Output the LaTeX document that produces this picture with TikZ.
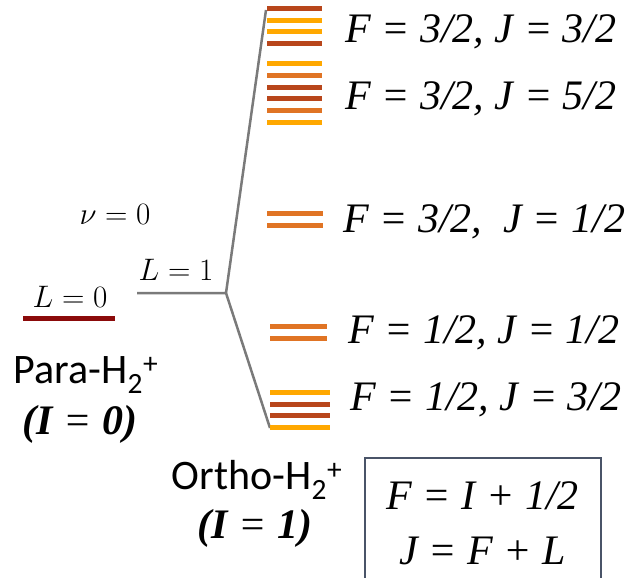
\documentclass[tikz,border=0pt]{standalone}
\usepackage{fontspec}
\setmainfont{Liberation Serif}
\newfontfamily\calibri{Carlito}
\usepackage{xcolor}
\usepackage{tikz}
\usetikzlibrary{positioning}

\definecolor{rust}{HTML}{B8461B}
\definecolor{amber}{HTML}{FFA800}
\definecolor{tangerine}{HTML}{E07424}
\definecolor{paradark}{HTML}{8B0A0A}
\definecolor{linegray}{HTML}{7A7A7A}
\definecolor{boxgray}{HTML}{4A5468}

\begin{document}
\begin{tikzpicture}[
  x=1pt, y=-1pt,
  lvlbar/.style = {line width=5pt},
  branch/.style = {draw=linegray, line width=2.5pt},
  statelbl/.style = {anchor=base west, inner sep=0pt,
    font=\fontsize{42}{42}\selectfont\itshape},
  mathlbl/.style = {anchor=base, inner sep=0pt, scale=1.25,
    font=\fontsize{24.88}{25}\selectfont},
  specieslbl/.style = {anchor=base, inner sep=0pt,
    font=\fontsize{42}{42}\selectfont\calibri},
  spinlbl/.style = {anchor=base, inner sep=0pt,
    font=\fontsize{42}{42}\selectfont\bfseries\itshape},
  rulebox/.style = {draw=boxgray, line width=1.5pt, align=center,
    minimum width=236pt, minimum height=132pt, inner sep=0pt,
    font=\fontsize{42}{55}\selectfont\itshape}
]
\useasboundingbox (0,0) rectangle (641,578);

%── Para level ───────────────────────────────────────────────────
\draw[lvlbar, paradark] (23,318) -- (115,318);
\node[mathlbl] (nu) at (115,225) {$\nu = 0$};
\node[mathlbl] (Lzero) at (70,307) {$L = 0$};
\node[specieslbl] (para) at (86,383)
  {Para-H\textsubscript{2}\textsuperscript{+}};
\node[spinlbl] (Izero) at (80,434) {(I {\mdseries=} 0)};

%── L = 1 branch ─────────────────────────────────────────────────
\coordinate (Lend)   at (137,293);
\coordinate (fork)   at (226,293);
\coordinate (topend) at (266,10);
\coordinate (botend) at (270,428);
\node[mathlbl] (Lone) at (176,280) {$L = 1$};

\draw[branch] (Lend) -- (fork) -- (topend);
\draw[branch] (fork) -- (botend);

%── Hyperfine sublevels ──────────────────────────────────────────
\foreach \yy/\cc in {9/rust, 21/amber, 32/amber, 44/rust,
                     64/amber, 76/tangerine, 88/rust, 99/rust,
                     111/tangerine, 123/amber}
  \draw[lvlbar, \cc] (267,\yy) -- (322,\yy);
\foreach \yy in {213, 225}
  \draw[lvlbar, tangerine] (267,\yy) -- (323,\yy);
\foreach \yy in {326, 338}
  \draw[lvlbar, tangerine] (270,\yy) -- (327,\yy);
\foreach \yy/\cc in {392/amber, 404/rust, 415/rust, 427/amber}
  \draw[lvlbar, \cc] (270,\yy) -- (330,\yy);

%── State labels ─────────────────────────────────────────────────
\node[statelbl] (s1) at (345,43)  {F = 3/2, J = 3/2};
\node[statelbl] (s2) at (345,110) {F = 3/2, J = 5/2};
\node[statelbl] (s3) at (343,233) {F = 3/2,\ \ J = 1/2};
\node[statelbl] (s4) at (348,343) {F = 1/2, J = 1/2};
\node[statelbl] (s5) at (350,410) {F = 1/2, J = 3/2};

%── Ortho label and coupling rules ───────────────────────────────
\node[specieslbl] (ortho) at (257,489)
  {Ortho-H\textsubscript{2}\textsuperscript{+}};
\node[spinlbl] (Ione) at (255,538) {(I {\mdseries=} 1)};

\node[rulebox, anchor=north west] (rules) at (364,457)
  {F = I + 1/2\\J = F + L};

\end{tikzpicture}
\end{document}
